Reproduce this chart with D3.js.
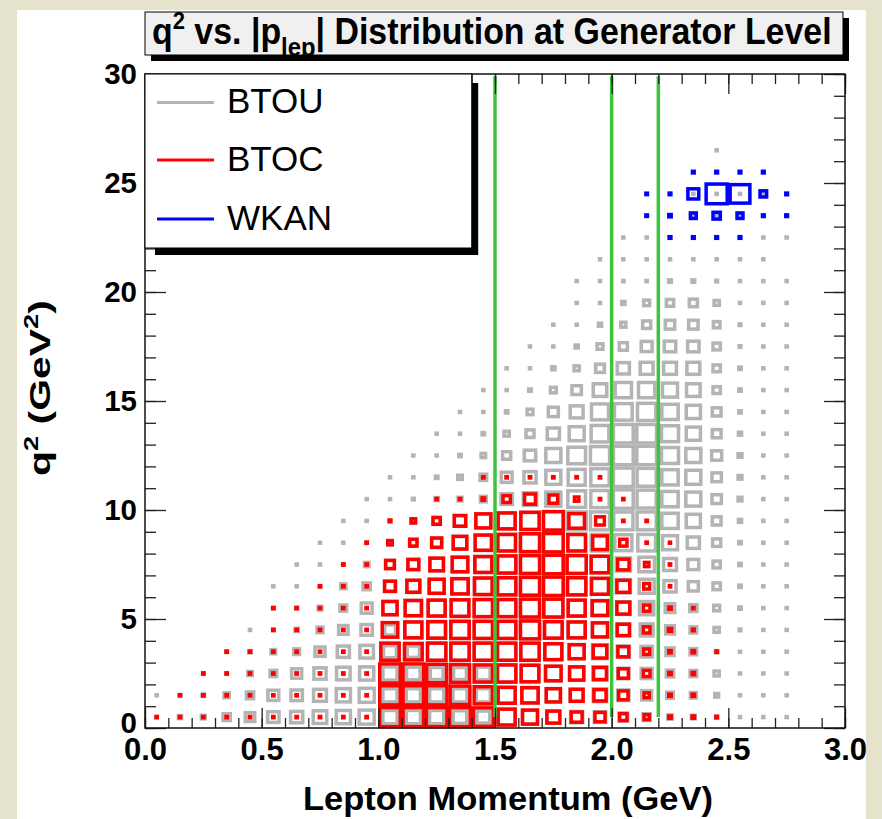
<!DOCTYPE html>
<html><head><meta charset="utf-8">
<script src="https://cdn.jsdelivr.net/npm/d3@7"></script>
<style>html,body{margin:0;padding:0;background:#e5e3cc;} svg{display:block;}</style>
</head><body>
<svg id="c" width="882" height="819"></svg>
<script>
// ---------------- data ----------------
const pRange = [0, 3];          // lepton momentum axis (GeV)
const q2Range = [0, 30];        // q^2 axis (GeV^2)
const pBinWidth = 0.1;
const q2BinWidth = 1;
const zMax = 92;                // common box normalisation

const xTickValues = [0, 0.5, 1, 1.5, 2, 2.5, 3];
const xTickLabels = ["0.0", "0.5", "1.0", "1.5", "2.0", "2.5", "3.0"];
const yTickValues = [0, 5, 10, 15, 20, 25, 30];
const yTickLabels = ["0", "5", "10", "15", "20", "25", "30"];

const cutValues = [1.5, 2.0, 2.2];   // vertical momentum cuts
const cutQ2Span = [0.5, 29.9];

const seriesNames = ["BTOU", "BTOC", "WKAN"];

// BTOU contents: row = q2 bin (from btouFirstQ2), first p bin index per row, then contents
const btouFirstQ2 = 0;
const btouFirst = [0,0,2,3,4,5,5,6,7,8,9,10,11,12,13,14,15,16,17,18,18,19,20,21,23,0,24];
const btouRows = [
 [0.2,1.7,2.5,9,15,22,25,31,34,38,34,34,34,31,28,49,38,28,25,22,13,9,3.4,2.5,0.5,0.2,0.2,0.2],
 [0.2,0.3,1,4.6,9,20,22,28,34,38,34,34,34,34,34,49,45,34,28,31,22,17,7.4,5.9,2.5,0.2,0.2,0.2],
 [0.3,0.3,3.4,7.4,17,25,31,34,34,31,28,28,31,57,53,41,34,34,22,20,9,7.4,4.6,0.2,0.2,0.2],
 [0.3,1,3.4,5.9,17,25,31,28,25,57,57,57,57,57,49,38,38,25,22,11,7.4,1,0.2,0.2,0.2],
 [0.2,0.3,1.7,5.9,15,22,20,49,53,57,57,57,62,53,49,41,28,28,13,7.4,4.6,0.5,0.2,0.2],
 [0.3,0.5,2.5,7.4,20,34,45,49,53,57,57,62,62,49,45,31,34,15,9,5.9,1,0.2,0.2],
 [0.2,0.2,0.3,4.6,9,20,28,38,45,53,57,62,66,57,49,34,38,25,17,9,1,0.2,0.2],
 [0.2,0.2,0.3,3.4,13,20,31,41,49,57,62,66,62,53,34,41,28,20,9,1,0.2,0.2],
 [0.2,0.2,0.3,3.4,9,17,31,45,53,62,66,53,53,49,53,38,25,11,1,0.2,0.2],
 [0.2,0.2,0.5,3.4,9,22,38,49,57,66,62,62,62,62,45,34,13,1.7,0.2,0.2],
 [0.2,0.2,0.5,1.7,2.5,5.9,22,31,38,53,57,66,62,45,38,15,2.5,0.2,0.2],
 [0.2,0.2,1,3.4,7.4,20,25,38,49,57,66,62,45,38,15,2.5,0.2,0.2],
 [0.2,0.2,1,3.4,11,22,38,53,62,66,66,49,38,17,2.5,0.2,0.2],
 [0.2,0.2,1,4.6,11,25,38,53,66,66,49,34,13,1.7,0.2,0.2],
 [0.2,0.2,1,5.9,17,28,49,53,57,45,34,13,1,0.2,0.2],
 [0.2,0.2,1,5.9,15,31,45,45,38,31,9,1,0.2,0.2],
 [0.2,0.2,1.7,4.6,13,25,28,28,28,9,1,0.2,0.2],
 [0.2,0.2,1.7,5.9,11,20,22,22,9,0.5,0.2,0.2],
 [0.2,0.2,1.7,4.6,11,15,15,7.4,0.5,0.2,0.2],
 [0.2,0.2,1.7,5.9,9,11,4.6,0.2,0.2,0.2],
 [0.2,0.2,0.3,0.3,1.2,1.2,0.5,0.2,0.2,0.2],
 [0.2,0.2,0.2,0.2,0.2,0.2,0.2,0.2],
 [0.2,0.2,0.2,0.2,0.2,0.2,0.2,0.2],
 [0.2,0.2,0.2,0.2,0.2,0.2,0.2],
 [0.2,0.2,0.2,0.2],
 [],
 [0.2]
];

// BTOC contents
const btocFirstQ2 = 0;
const btocFirst = [0,1,2,3,5,5,7,8,9,10,12,14];
const btocRows = [
 [0.3,0.3,0.3,0.3,0.3,0.3,0.3,0.3,0.3,0.3,71,71,71,71,66,49,38,28,20,17,9,4.6,1,1,0.5],
 [0.3,0.3,0.3,0.3,0.3,0.3,0.3,0.3,0.3,71,71,71,66,57,49,45,34,28,25,15,4.6,1,1],
 [0.3,0.3,0.3,0.3,0.3,0.3,0.3,0.3,71,71,66,62,57,57,53,41,34,28,17,7.4,1,1],
 [0.3,0.3,0.3,0.3,0.3,0.3,0.3,57,53,57,57,57,57,57,49,38,31,20,5.9,1,1,0.3],
 [0.3,0.3,0.3,0.3,0.3,41,49,53,57,57,57,62,53,49,38,25,7.4,1.7,0.5],
 [0.3,0.3,0.3,0.3,0.3,34,45,49,53,57,57,62,62,49,41,28,7.4,1,0.3],
 [0.3,0.3,0.3,20,28,38,45,53,57,62,66,57,49,28,5.9,0.3],
 [0.3,0.3,13,20,31,41,49,57,62,66,62,53,22,3.4,0.3],
 [0.3,3.4,9,17,31,45,53,62,66,53,36,9,0.3,0.2],
 [0.5,3.4,9,22,38,49,57,66,41,13,0.3,0.3],
 [0.3,0.3,1,9,20,13,3.4,0.3,0.3],
 [0.3,0.3,0.3,0.3,0.3,0.3]
];

// WKAN contents
const wkanFirstQ2 = 22;
const wkanFirst = [22,21,21,23];
const wkanRows = [
 [0.5,0.5,0.5,0.5],
 [0.4,1,5.9,9,5.9,0.5,0.5],
 [0.4,0.5,20,75,66,7.4,0.5],
 [0.5,0.5,0.5,0.5]
];

// ---------------- drawing ----------------
const F = "'Liberation Sans', Arial, Helvetica, sans-serif";
const svg = d3.select("#c");
svg.append("rect").attr("width", 882).attr("height", 819).attr("fill", "#e5e3cc");
svg.append("rect").attr("x", 17).attr("y", 10).attr("width", 849).attr("height", 809).attr("fill", "#ffffff");

const x = d3.scaleLinear().domain(pRange).range([145, 845]);
const y = d3.scaleLinear().domain(q2Range).range([728, 74]);
const size = d3.scaleSqrt().domain([0, zMax]).range([0, 1]);
const bw = x(pBinWidth) - x(0);
const bh = y(0) - y(q2BinWidth);

function cells(firstQ2, first, rows) {
  const out = [];
  rows.forEach((vals, r) => {
    vals.forEach((v, k) => { if (v > 0) out.push({ i: first[r] + k, j: firstQ2 + r, v }); });
  });
  return out;
}
const colors = { BTOU: "#b4b4b4", BTOC: "#ff0000", WKAN: "#0000ff" };
const hists = [
  { name: "BTOU", data: cells(btouFirstQ2, btouFirst, btouRows) },
  { name: "BTOC", data: cells(btocFirstQ2, btocFirst, btocRows) },
  { name: "WKAN", data: cells(wkanFirstQ2, wkanFirst, wkanRows) }
];
const gBoxes = svg.append("g");
hists.forEach(h => {
  gBoxes.append("g").selectAll("rect").data(h.data).join("rect")
    .attr("x", d => x((d.i + 0.5) * pBinWidth) - size(d.v) * bw / 2)
    .attr("y", d => y((d.j + 0.5) * q2BinWidth) - size(d.v) * bh / 2)
    .attr("width", d => size(d.v) * bw)
    .attr("height", d => size(d.v) * bh)
    .attr("fill", "none")
    .attr("stroke", colors[h.name])
    .attr("stroke-width", 3.5);
});

// cut lines
svg.append("g").selectAll("line").data(cutValues).join("line")
  .attr("x1", d => x(d)).attr("x2", d => x(d))
  .attr("y1", y(cutQ2Span[0])).attr("y2", y(cutQ2Span[1]))
  .attr("stroke", "#3cc43c").attr("stroke-width", 3.5);

// axes
const minorX = d3.range(0, 31).map(k => k * pBinWidth);
const minorY = d3.range(0, 31).map(k => k * q2BinWidth);
function styleAxis(g) {
  g.select(".domain").remove();
  g.selectAll(".tick line").attr("stroke", "#222").attr("stroke-width", 1.3);
}
svg.append("g").attr("transform", "translate(0,728)")
  .call(d3.axisBottom(x).tickValues(minorX).tickSize(-10).tickFormat("")).call(styleAxis);
svg.append("g").attr("transform", "translate(0,74)")
  .call(d3.axisTop(x).tickValues(minorX).tickSize(-10).tickFormat("")).call(styleAxis);
svg.append("g").attr("transform", "translate(145,0)")
  .call(d3.axisLeft(y).tickValues(minorY).tickSize(-11).tickFormat("")).call(styleAxis);
svg.append("g").attr("transform", "translate(845,0)")
  .call(d3.axisRight(y).tickValues(minorY).tickSize(-11).tickFormat("")).call(styleAxis);

const xb = svg.append("g").attr("transform", "translate(0,728)")
  .call(d3.axisBottom(x).tickValues(xTickValues).tickSize(-20).tickPadding(10).tickFormat((d, i) => xTickLabels[i]))
  .call(styleAxis);
xb.selectAll("text").attr("font-family", F).attr("font-weight", "bold").attr("font-size", 31).attr("fill", "#000");
svg.append("g").attr("transform", "translate(0,74)")
  .call(d3.axisTop(x).tickValues(xTickValues).tickSize(-20).tickFormat("")).call(styleAxis);
const yl = svg.append("g").attr("transform", "translate(145,0)")
  .call(d3.axisLeft(y).tickValues(yTickValues).tickSize(-21).tickPadding(8).tickFormat((d, i) => yTickLabels[i]))
  .call(styleAxis);
yl.selectAll("text").attr("font-family", F).attr("font-weight", "bold").attr("font-size", 29.5).attr("fill", "#000")
  .attr("dy", d => d === 0 ? "0.15em" : "0.32em");
svg.append("g").attr("transform", "translate(845,0)")
  .call(d3.axisRight(y).tickValues(yTickValues).tickSize(-21).tickFormat("")).call(styleAxis);

// frame
svg.append("rect").attr("x", 145).attr("y", 74).attr("width", 700).attr("height", 654)
  .attr("fill", "none").attr("stroke", "#111").attr("stroke-width", 1.5);

// axis titles
const xt = svg.append("text").attr("font-family", F).attr("font-weight", "bold").attr("font-size", 33)
  .text("Lepton Momentum (GeV)");
{
  const len = xt.node().getComputedTextLength();
  const s = 410 / len;
  xt.attr("transform", `translate(303,810) scale(${s},1)`);
}
const yt = svg.append("text").attr("font-family", F).attr("font-weight", "bold").attr("font-size", 30);
yt.append("tspan").text("q");
yt.append("tspan").attr("font-size", 20).attr("dy", -12).text("2");
yt.append("tspan").attr("dy", 12).text(" (GeV");
yt.append("tspan").attr("font-size", 20).attr("dy", -12).text("2");
yt.append("tspan").attr("dy", 12).text(")");
{
  const len = yt.node().getComputedTextLength();
  const s = 176 / len;
  yt.attr("transform", `translate(50,476) rotate(-90) scale(${s},1)`);
}

// title box
svg.append("rect").attr("x", 843).attr("y", 18).attr("width", 6).attr("height", 43).attr("fill", "#000");
svg.append("rect").attr("x", 151).attr("y", 55).attr("width", 698).attr("height", 6).attr("fill", "#000");
svg.append("rect").attr("x", 145).attr("y", 12).attr("width", 698).attr("height", 43)
  .attr("fill", "#f0f0f0").attr("stroke", "#000").attr("stroke-width", 1);
const tt = svg.append("text").attr("font-family", F).attr("font-weight", "bold").attr("font-size", 37);
tt.append("tspan").text("q");
tt.append("tspan").attr("font-size", 24).attr("dy", -15).text("2");
tt.append("tspan").attr("dy", 15).text(" vs. |p");
tt.append("tspan").attr("font-size", 26).attr("dy", 12).text("lep");
tt.append("tspan").attr("dy", -12).text("| Distribution at Generator Level");
{
  const len = tt.node().getComputedTextLength();
  const s = 680 / len;
  tt.attr("transform", `translate(152,44) scale(${s},1)`);
}

// legend
svg.append("rect").attr("x", 471.7).attr("y", 83).attr("width", 6.5).attr("height", 172).attr("fill", "#000");
svg.append("rect").attr("x", 155).attr("y", 248).attr("width", 323).attr("height", 7).attr("fill", "#000");
svg.append("rect").attr("x", 145).attr("y", 74).attr("width", 326.7).attr("height", 174)
  .attr("fill", "#fff").attr("stroke", "#000").attr("stroke-width", 1);
const legY = [102.5, 160, 219];
const lg = svg.append("g").selectAll("g").data(seriesNames).join("g");
lg.append("line").attr("x1", 157).attr("x2", 214).attr("y1", (d, i) => legY[i]).attr("y2", (d, i) => legY[i])
  .attr("stroke", d => colors[d]).attr("stroke-width", 3);
lg.append("text").attr("x", 227).attr("y", (d, i) => legY[i] + 10.5)
  .attr("font-family", F).attr("font-size", 35).attr("fill", "#000").text(d => d);
</script>
</body></html>
